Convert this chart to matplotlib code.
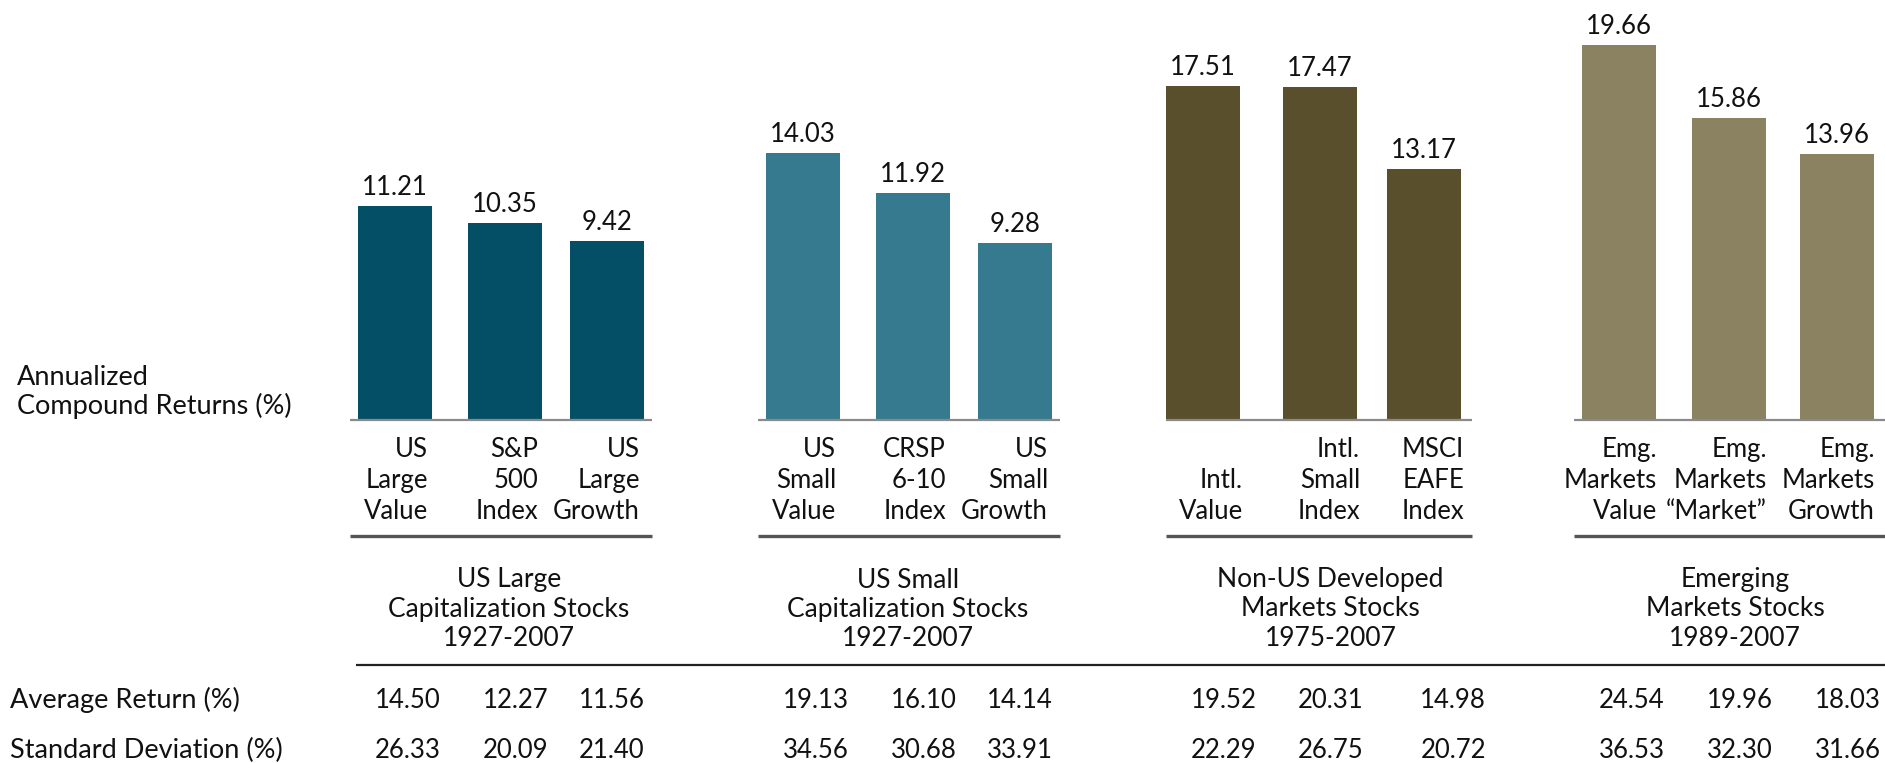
import matplotlib
matplotlib.use('Agg')
import matplotlib.pyplot as plt

plt.rcParams['font.family'] = ['Lato', 'DejaVu Sans']

# Data
groups = ['US Large\nCapitalization Stocks\n1927-2007',
          'US Small\nCapitalization Stocks\n1927-2007',
          'Non-US Developed\nMarkets Stocks\n1975-2007',
          'Emerging\nMarkets Stocks\n1989-2007']
bar_labels = [['US\nLarge\nValue', 'S&P\n500\nIndex', 'US\nLarge\nGrowth'],
              ['US\nSmall\nValue', 'CRSP\n6-10\nIndex', 'US\nSmall\nGrowth'],
              ['Intl.\nValue', 'Intl.\nSmall\nIndex', 'MSCI\nEAFE\nIndex'],
              ['Emg.\nMarkets\nValue', 'Emg.\nMarkets\n\u201cMarket\u201d', 'Emg.\nMarkets\nGrowth']]
annualized = [[11.21, 10.35, 9.42],
              [14.03, 11.92, 9.28],
              [17.51, 17.47, 13.17],
              [19.66, 15.86, 13.96]]
avg_return = [[14.50, 12.27, 11.56],
              [19.13, 16.10, 14.14],
              [19.52, 20.31, 14.98],
              [24.54, 19.96, 18.03]]
std_dev = [[26.33, 20.09, 21.40],
           [34.56, 30.68, 33.91],
           [22.29, 26.75, 20.72],
           [36.53, 32.30, 31.66]]
colors = ['#054F66', '#357A8E', '#594F2D', '#8B8262']

# Layout (pixels)
W, H = 1885, 763
BASE = 420          # baseline of bars, from top
PX = 19.05          # pixels per percentage point
BAR_W = 74
group_x = [395, 803, 1203, 1619]
slot_x = [[0, 110, 212], [0, 110, 212], [0, 117, 221], [0, 110, 218]]
line_pad = [(8, 8), (8, 8), (0, 11), (8, 11)]
label_dx = [-4, -4, 3, 1]
title_dx = [8, -1, 17, 7]
table_dx = [[13, 11, 5], [13, 11, 5], [21, 11, 29], [13, 11, 11]]
TXT = '#111111'


def yd(py):
    return (BASE - py) / PX


fig = plt.figure(figsize=(W / 100, H / 100), dpi=100)
ax = fig.add_axes([0, 0, 1, 1])
ax.set_xlim(0, W)
ax.set_ylim(yd(H), yd(0))
ax.axis('off')

for g in range(4):
    xs = [group_x[g] + s for s in slot_x[g]]
    bars = ax.bar(xs, annualized[g], width=BAR_W, color=colors[g], zorder=2)
    for b, v in zip(bars, annualized[g]):
        ax.text(b.get_x() + BAR_W / 2, v + 11 / PX, f'{v:.2f}', ha='center',
                va='baseline', fontsize=18.5, color=TXT)
    left = xs[0] - BAR_W / 2 - line_pad[g][0]
    right = xs[-1] + BAR_W / 2 + line_pad[g][1]
    ax.hlines(0, left, right, color='#8a8a8a', lw=1.6, zorder=3)
    ax.hlines(yd(536), left, right, color='#555555', lw=2.4)
    for x, lab in zip(xs, bar_labels[g]):
        ax.text(x + BAR_W / 2 + label_dx[g], yd(524), lab, ha='right',
                va='bottom', multialignment='right', fontsize=18.5,
                linespacing=1.3, color=TXT)
    ax.text((xs[0] + xs[-1]) / 2 + title_dx[g], yd(609), groups[g],
            ha='center', va='center', fontsize=19, linespacing=1.2, color=TXT)
    for x, dx, a, s in zip(xs, table_dx[g], avg_return[g], std_dev[g]):
        ax.text(x + dx, yd(700), f'{a:.2f}', ha='center', va='center',
                fontsize=18.5, color=TXT)
        ax.text(x + dx, yd(750), f'{s:.2f}', ha='center', va='center',
                fontsize=18.5, color=TXT)

ax.hlines(yd(665), 356, W, color='#222222', lw=1.6)

ax.text(17, yd(392), 'Annualized\nCompound Returns (%)', ha='left', va='center',
        fontsize=19.5, linespacing=1.15, color=TXT)
ax.text(10, yd(700), 'Average Return (%)', ha='left', va='center',
        fontsize=19.5, color=TXT)
ax.text(10, yd(750), 'Standard Deviation (%)', ha='left', va='center',
        fontsize=19.5, color=TXT)

fig.savefig('out.png', dpi=100)
